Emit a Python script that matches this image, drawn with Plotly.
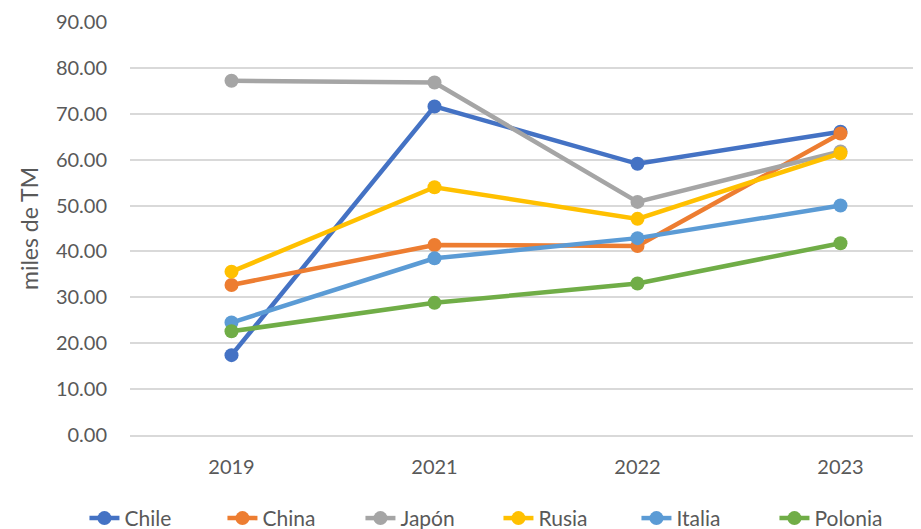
import plotly.graph_objects as go

years = ["2019", "2021", "2022", "2023"]
series_names = ["Chile", "China", "Japón", "Rusia", "Italia", "Polonia"]
chile = [17.4, 71.6, 59.1, 66.1]
china = [32.7, 41.4, 41.2, 65.7]
japon = [77.2, 76.8, 50.8, 61.8]
rusia = [35.6, 54.0, 47.1, 61.4]
italia = [24.5, 38.5, 42.9, 50.0]
polonia = [22.6, 28.8, 33.0, 41.8]
y_ticks = [0, 10, 20, 30, 40, 50, 60, 70, 80, 90]

colors = ["#4472C4", "#ED7D31", "#A5A5A5", "#FFC000", "#5B9BD5", "#70AD47"]
values = [chile, china, japon, rusia, italia, polonia]

fig = go.Figure()
for name, vals, col in zip(series_names, values, colors):
    fig.add_trace(go.Scatter(
        x=years, y=vals, name=name, mode="lines+markers",
        line=dict(color=col, width=4.5),
        marker=dict(color=col, size=14),
    ))

font_family = "Lato, Roboto, sans-serif"
fig.update_layout(
    width=921, height=529,
    paper_bgcolor="white", plot_bgcolor="white",
    margin=dict(l=122, r=0, t=14, b=102, autoexpand=False),
    font=dict(family=font_family, color="#595959", size=20),
    showlegend=True,
    legend=dict(
        orientation="h", x=-0.057, xanchor="left", y=-0.202, yanchor="middle",
        font=dict(size=21, color="#595959"),
        entrywidth=93, entrywidthmode="pixels",
        bgcolor="rgba(0,0,0,0)",
    ),
)
fig.update_xaxes(
    type="category", range=[-0.5, 3.436],
    showgrid=False, showline=True, linecolor="#D9D9D9", linewidth=1.5,
    ticks="", ticklabelstandoff=13,
    tickfont=dict(size=20, color="#595959"),
)
fig.update_yaxes(
    range=[0, 90], tickvals=y_ticks, tickformat=".2f",
    showgrid=True, gridcolor="#D9D9D9", gridwidth=1.5,
    zeroline=False, showline=False,
    ticks="", ticklabelstandoff=22,
    tickfont=dict(size=20, color="#595959"),
    title=dict(text="miles de TM", font=dict(size=23, color="#595959"), standoff=10),
)

fig.write_html("out.html")
